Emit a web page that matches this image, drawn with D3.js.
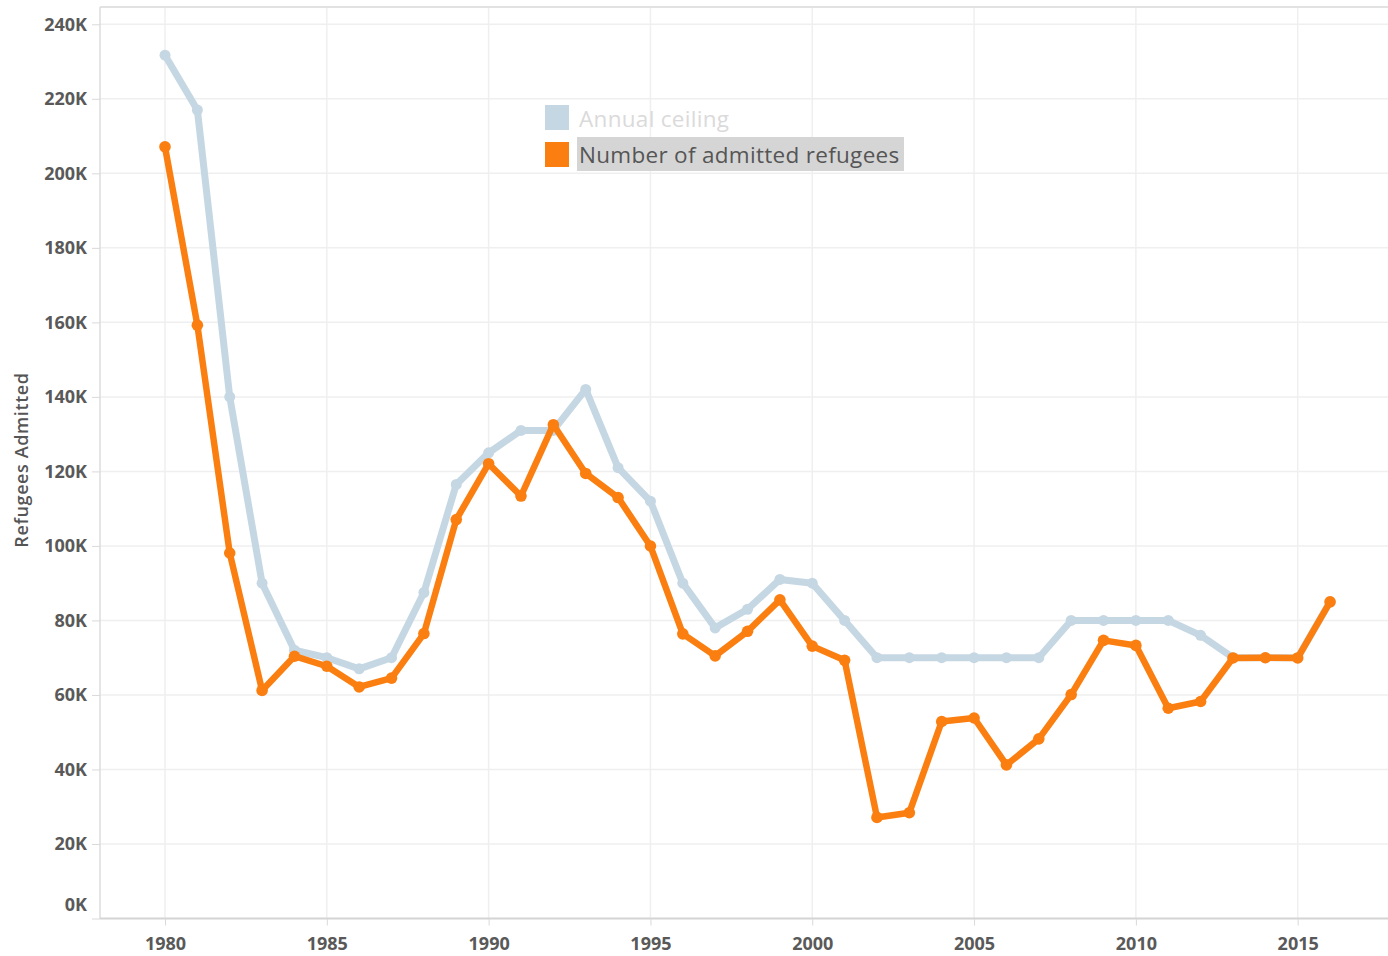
<!DOCTYPE html>
<html><head><meta charset="utf-8">
<script src="https://cdn.jsdelivr.net/npm/d3@7"></script>
<style>body{margin:0;background:#fff}svg{display:block}</style>
</head><body>
<svg id="c" width="1388" height="956"></svg>
<script>
const years = d3.range(1980, 2017);
const ceiling = [231700,217000,140000,90000,72000,70000,67000,70000,87500,116500,125000,131000,131000,142000,121000,112000,90000,78000,83000,91000,90000,80000,70000,70000,70000,70000,70000,70000,80000,80000,80000,80000,76000,70000,70000,70000,85000];
const admitted = [207116,159252,98096,61218,70393,67704,62146,64528,76483,107070,122066,113389,132531,119448,112981,99974,76403,70488,77080,85525,73100,69304,27131,28403,52873,53813,41223,48218,60107,74654,73293,56424,58238,69926,69987,69933,84994];
const yTicks = d3.range(0, 240001, 20000);
const xTicks = [1980,1985,1990,1995,2000,2005,2010,2015];
const legendLabels = ["Annual ceiling", "Number of admitted refugees"];
const colors = {ceiling:"#c6d7e4", admitted:"#fb7f10"};

const svg = d3.select("#c");
const L = 100, R = 1388, T = 7, B = 918.5;
const x = d3.scaleLinear().domain([1980, 2015]).range([165, 1297.7]);
const y = d3.scaleLinear().domain([0, 240000]).range([B, 24.3]);
const font = "'Open Sans', 'DejaVu Sans', sans-serif";

// gridlines
svg.append("g").selectAll("line").data(yTicks.filter(d=>d>0)).join("line")
  .attr("x1", L).attr("x2", R).attr("y1", d=>y(d)).attr("y2", d=>y(d))
  .attr("stroke", "#efefef").attr("stroke-width", 1.5);
svg.append("g").selectAll("line").data(xTicks).join("line")
  .attr("x1", d=>x(d)).attr("x2", d=>x(d)).attr("y1", T).attr("y2", B)
  .attr("stroke", "#efefef").attr("stroke-width", 1.5);
// frame
svg.append("line").attr("x1", L).attr("x2", R).attr("y1", T).attr("y2", T).attr("stroke", "#e2e2e2").attr("stroke-width", 2);
svg.append("line").attr("x1", L).attr("x2", L).attr("y1", T).attr("y2", B).attr("stroke", "#dcdcdc").attr("stroke-width", 1.5);

// axes
const yAxis = d3.axisLeft(y).tickValues(yTicks).tickSize(8).tickPadding(5)
  .tickFormat(d => (d/1000) + "K");
const gy = svg.append("g").attr("transform", `translate(${L},0)`).call(yAxis);
gy.select(".domain").remove();
gy.selectAll(".tick line").attr("stroke", "#d9d9d9");
gy.selectAll(".tick text").attr("font-family", font).attr("font-size", 18).attr("font-weight", 700).attr("fill", "#595959");
gy.selectAll(".tick").filter(d=>d===0).select("text").attr("dy", "-0.45em");

const xAxis = d3.axisBottom(x).tickValues(xTicks).tickSize(7).tickPadding(12).tickFormat(d3.format("d"));
const gx = svg.append("g").attr("transform", `translate(0,${B})`).call(xAxis);
gx.select(".domain").attr("d", `M${L},0H${R}`).attr("stroke", "#d4d4d4").attr("stroke-width", 2);
gx.selectAll(".tick line").attr("stroke", "#d9d9d9");
gx.selectAll(".tick text").attr("font-family", font).attr("font-size", 18).attr("font-weight", 700).attr("fill", "#595959");

// y title
svg.append("text").attr("transform", "translate(28,460) rotate(-90)")
  .attr("text-anchor", "middle").attr("font-family", font).attr("font-size", 18).attr("font-weight", 600)
  .attr("letter-spacing", 0.6).attr("fill", "#555").text("Refugees Admitted");

// lines
const line = d3.line().x((d,i)=>x(years[i])).y(d=>y(d));
function series(vals, color, w, r){
  svg.append("path").datum(vals).attr("d", line).attr("fill", "none")
    .attr("stroke", color).attr("stroke-width", w).attr("stroke-linejoin", "round").attr("stroke-linecap", "round");
  svg.append("g").selectAll("circle").data(vals).join("circle")
    .attr("cx", (d,i)=>x(years[i])).attr("cy", d=>y(d)).attr("r", r).attr("fill", color);
}
series(ceiling, colors.ceiling, 7, 5.5);
series(admitted, colors.admitted, 6.5, 5.8);

// legend
const lg = svg.append("g");
lg.append("rect").attr("x", 545).attr("y", 105).attr("width", 24).attr("height", 25).attr("fill", colors.ceiling);
lg.append("text").attr("x", 579).attr("y", 127).attr("font-family", font).attr("font-size", 22.5)
  .attr("letter-spacing", 0.3).attr("fill", "#dadada").text(legendLabels[0]);
lg.append("rect").attr("x", 577).attr("y", 137).attr("width", 327).attr("height", 34).attr("fill", "#d5d5d5");
lg.append("rect").attr("x", 545).attr("y", 142).attr("width", 24).attr("height", 25).attr("fill", colors.admitted);
lg.append("text").attr("x", 579).attr("y", 163).attr("font-family", font).attr("font-size", 22.5)
  .attr("letter-spacing", 0.3).attr("fill", "#555").text(legendLabels[1]);
</script>
</body></html>
